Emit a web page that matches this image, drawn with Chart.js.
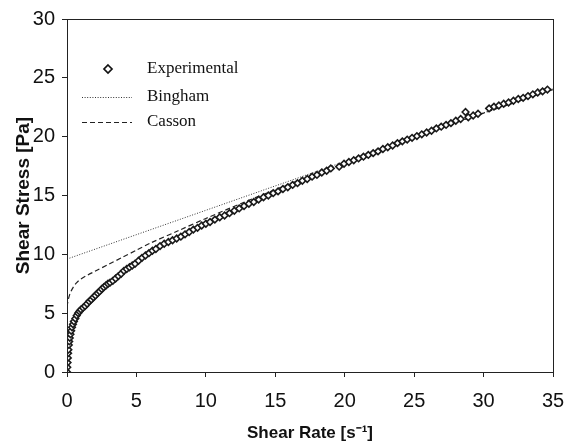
<!DOCTYPE html>
<html>
<head>
<meta charset="utf-8">
<script src="https://cdn.jsdelivr.net/npm/chart.js@4/dist/chart.umd.min.js"></script>
<style>
html,body{margin:0;padding:0;background:#fff;}
#wrap{width:570px;height:444px;position:relative;}
</style>
</head>
<body>
<div id="wrap"><canvas id="c" width="570" height="444"></canvas></div>
<script>
// ---- data ----
const expX = [0,0.02,0.04,0.06,0.08,0.1,0.13,0.16,0.2,0.25,0.3,0.36,0.43,0.5,0.6,0.7,0.8,0.9,1.0,
  1.15,1.3,1.45,1.6,1.75,1.9,2.05,2.2,2.35,2.5,2.65,2.8,2.95,3.1,3.3,3.5,3.7,3.9,4.1,4.3,4.5,4.7,4.9,
  5.15,5.4,5.65,5.9,6.15,6.4,6.7,7.0,7.3,7.6,7.9,8.2,8.5,8.8,9.1,9.4,9.7,10.0,
  10.3,10.65,11.0,11.35,11.7,12.05,12.4,12.75,13.1,13.45,13.8,14.15,14.5,14.85,15.2,15.55,15.9,16.25,16.6,16.95,
  17.3,17.65,18.0,18.35,18.7,19.0,19.6,19.95,20.3,20.65,21.0,21.35,21.7,22.05,22.4,22.75,23.1,23.45,23.8,24.15,
  24.5,24.85,25.2,25.55,25.9,26.25,26.6,26.95,27.3,27.65,28.0,28.35,28.7,28.9,29.25,29.6,30.4,30.75,31.1,31.45,
  31.8,32.15,32.5,32.85,33.2,33.55,33.9,34.25,34.6];
const expY = [0,0.4,0.8,1.2,1.6,1.9,2.3,2.6,2.9,3.2,3.5,3.8,4.05,4.3,4.55,4.8,5.0,5.15,5.3,
  5.45,5.6,5.8,6.0,6.15,6.35,6.5,6.7,6.85,7.05,7.2,7.35,7.5,7.6,7.75,7.95,8.15,8.35,8.6,8.75,8.9,9.05,9.2,
  9.45,9.7,9.9,10.1,10.3,10.45,10.7,10.9,11.05,11.2,11.35,11.5,11.7,11.9,12.1,12.25,12.45,12.6,
  12.75,12.95,13.15,13.3,13.5,13.7,13.9,14.1,14.3,14.45,14.65,14.85,15.0,15.2,15.35,15.55,15.7,15.9,16.05,16.25,
  16.4,16.6,16.75,16.95,17.1,17.3,17.45,17.7,17.85,18.0,18.15,18.3,18.45,18.6,18.75,18.95,19.1,19.25,19.45,19.6,
  19.75,19.9,20.05,20.2,20.35,20.5,20.7,20.85,21.0,21.15,21.35,21.5,22.1,21.65,21.8,21.95,22.4,22.55,22.65,22.8,
  22.9,23.05,23.2,23.3,23.45,23.6,23.75,23.85,24.0];
const binghamX = [0, 35];
const binghamY = [9.6, 24.1];
const cassonX = [0,0.05,0.1,0.2,0.35,0.5,0.7,1.0,1.5,2,3,4,5,6,8,10,12.5,15,17.5,20,22.5,25,27.5,30,32.5,35];
const cassonY = [5.55,5.9,6.2,6.6,7.0,7.3,7.6,7.9,8.25,8.55,9.15,9.75,10.35,10.95,12.0,13.05,14.3,15.5,16.65,17.75,18.85,19.95,21.0,22.0,23.0,24.0];
const seriesNames = ['Experimental','Bingham','Casson'];
const xTitle = 'Shear Rate [s\u207B\u00B9]';
const yTitle = 'Shear Stress [Pa]';

const pts = (xs, ys) => xs.map((x, i) => ({x: x, y: ys[i]}));
const tickFont = {family: '"Liberation Sans Narrow", "Arial Narrow", "Liberation Sans", Arial, sans-serif', size: 20};
const titleFamily = '"Liberation Sans", Arial, sans-serif';

const frame = {
  id: 'frame',
  afterDatasetsDraw(chart) {
    const {ctx, chartArea: a} = chart;
    ctx.save();
    ctx.strokeStyle = '#222';
    ctx.lineWidth = 1;
    ctx.strokeRect(a.left + 0.5, a.top + 0.5, a.right - a.left, a.bottom - a.top);
    ctx.restore();
  }
};

const legendBox = {
  id: 'legendBox',
  afterDraw(chart) {
    const ctx = chart.ctx;
    const ds = chart.data.datasets;
    ctx.save();
    ctx.font = '17px "Liberation Serif", "Times New Roman", serif';
    ctx.textBaseline = 'middle';
    const rows = [69, 97, 122];
    const textX = 147;
    const cx = 108, cy = rows[0], r = 4;
    ctx.beginPath();
    ctx.moveTo(cx, cy - r); ctx.lineTo(cx + r, cy); ctx.lineTo(cx, cy + r); ctx.lineTo(cx - r, cy); ctx.closePath();
    ctx.fillStyle = '#fff'; ctx.fill();
    ctx.strokeStyle = '#111'; ctx.lineWidth = 1.7; ctx.stroke();
    [1, 2].forEach(i => {
      ctx.beginPath();
      ctx.setLineDash(ds[i].borderDash);
      ctx.strokeStyle = ds[i].borderColor;
      ctx.lineWidth = ds[i].borderWidth;
      ctx.moveTo(82, rows[i] + 0.5); ctx.lineTo(132, rows[i] + 0.5);
      ctx.stroke();
    });
    ctx.setLineDash([]);
    ctx.fillStyle = '#111';
    ds.forEach((d, i) => ctx.fillText(d.label, textX, rows[i]));
    ctx.restore();
  }
};

new Chart(document.getElementById('c'), {
  type: 'scatter',
  data: {
    datasets: [
      {label: seriesNames[0], data: pts(expX, expY), showLine: false, pointStyle: 'rectRot',
       pointRadius: 3.3, pointBorderWidth: 1.6, pointBackgroundColor: '#fff', pointBorderColor: '#1a1a1a', order: 0},
      {label: seriesNames[1], data: pts(binghamX, binghamY), showLine: true, pointRadius: 0,
       borderColor: '#333', borderWidth: 1, borderDash: [1, 1.6], order: 2},
      {label: seriesNames[2], data: pts(cassonX, cassonY), showLine: true, pointRadius: 0, tension: 0.3,
       borderColor: '#222', borderWidth: 1.2, borderDash: [5, 3], order: 1}
    ]
  },
  options: {
    responsive: false,
    animation: false,
    devicePixelRatio: 1,
    layout: {padding: {top: 19, right: 17, left: 0, bottom: 0}},
    plugins: {legend: {display: false}, tooltip: {enabled: false}},
    scales: {
      x: {
        type: 'linear', min: 0, max: 35,
        ticks: {stepSize: 5, color: '#111', font: tickFont, padding: 12},
        grid: {display: true, drawOnChartArea: false, tickLength: 5, color: '#222'},
        border: {display: true, color: '#222', width: 1},
        title: {display: true, text: xTitle, color: '#111', font: {family: titleFamily, size: 17, weight: 'bold'}, padding: {top: 0, bottom: 0}},
        afterFit(s) { s.height = 72; s.paddingRight = 0; s.paddingLeft = 0; }
      },
      y: {
        type: 'linear', min: 0, max: 30,
        ticks: {stepSize: 5, color: '#111', font: tickFont, padding: 7},
        grid: {display: true, drawOnChartArea: false, tickLength: 5, color: '#222'},
        border: {display: true, color: '#222', width: 1},
        title: {display: true, text: yTitle, color: '#111', font: {family: titleFamily, size: 19, weight: 'bold'}, padding: {top: 12, bottom: 12}},
        afterFit(s) { s.width = 67; s.paddingTop = 0; s.paddingBottom = 0; }
      }
    }
  },
  plugins: [frame, legendBox]
});
</script>
</body>
</html>
